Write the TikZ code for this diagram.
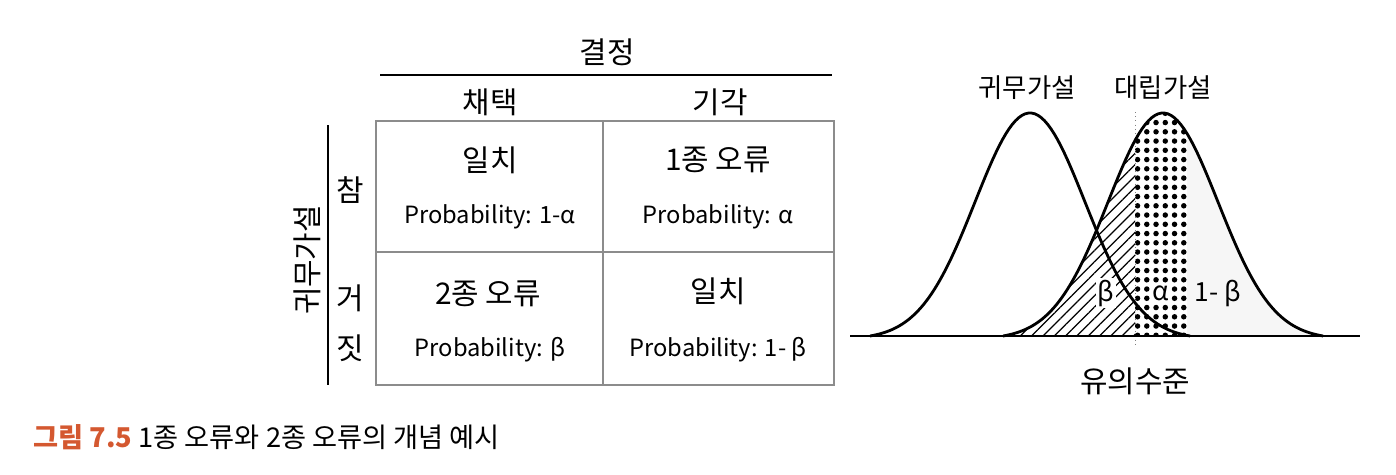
\documentclass[tikz,border=0pt]{standalone}
\usepackage{fontspec}
\setmainfont{Noto Sans CJK KR}
\usepackage{tikz}
\usetikzlibrary{patterns.meta}

\definecolor{capred}{RGB}{212,88,48}
\definecolor{gridgray}{gray}{0.55}
\tikzset{
  head/.style={font=\fontsize{17}{20}\selectfont, inner sep=0pt},
  prob/.style={font=\fontsize{13.5}{16}\selectfont, inner sep=0pt},
  curvelab/.style={font=\fontsize{15}{18}\selectfont, inner sep=0pt},
  curve/.style={line width=1.6pt, line join=round},
}

\begin{document}
\begin{tikzpicture}[x=0.02cm,y=-0.02cm,
    declare function={gnull(\x)=336-223*(exp(-((\x-1030)/55)^2/2)-0.0145)/0.9855;
                      galt(\x)=336-223*(exp(-((\x-1163)/55)^2/2)-0.0145)/0.9855;}]
		\useasboundingbox (0,0) rectangle (1396,474);
		% decision table
		\node[head] (decide) at (607,52) {결정};
		\draw[line width=1pt] (380,75)--(832,75);
		\node[head] (accept) at (490,102) {채택};
		\node[head] (reject) at (720,102) {기각};
		\draw[gridgray, line width=0.9pt] (376,121) rectangle (834,385);
		\draw[gridgray, line width=0.9pt] (603,121)--(603,385);
		\draw[gridgray, line width=0.9pt] (376,252)--(834,252);
		\draw[line width=1pt] (328,125)--(328,385);
		\node[head, rotate=90] (nullhyp) at (307,260) {귀무가설};
		\node[head] (true) at (350,190) {참};
		\node[head] (false1) at (350,298) {거};
		\node[head] (false2) at (350,348) {짓};
		\node[head] (okA) at (490,160) {일치};
		\node[prob] (okAp) at (490,217) {Probability: 1-α};
		\node[head] (err1) at (718,160) {1종 오류};
		\node[prob] (err1p) at (718,217) {Probability: α};
		\node[head] (err2) at (488,294) {2종 오류};
		\node[prob] (err2p) at (490,350) {Probability: β};
		\node[head] (okB) at (718,291) {일치};
		\node[prob] (okBp) at (718,350) {Probability: 1- β};
		% distributions
		\fill[pattern={Lines[angle=45,distance=1.6mm,line width=0.7pt]}] (1003,336) -- plot[domain=1003:1135,samples=50] (\x,{galt(\x)}) -- (1135,336) -- cycle;
		\fill[pattern={Dots[radius=0.55mm,distance=1.85mm]}] (1135,336) -- plot[domain=1135:1187,samples=30] (\x,{galt(\x)}) -- (1187,336) -- cycle;
		\fill[gray!7] (1187,336) -- plot[domain=1187:1323,samples=50] (\x,{galt(\x)}) -- (1323,336) -- cycle;
		\draw[gray, dotted] (1135,112)--(1135,347);
		\draw[line width=0.8pt] (850,336)--(1360,336);
		\node[curvelab, fill=white, inner sep=1pt] (betalab) at (1106,293) {β};
		\node[curvelab, fill=white, inner sep=1pt] (alphalab) at (1161,293) {α};
		\node[curvelab] (powerlab) at (1218,293) {1- β};
		\draw[curve] plot[domain=870:1190,samples=100] (\x,{gnull(\x)});
		\draw[curve] plot[domain=1003:1323,samples=100] (\x,{galt(\x)});
		\node[curvelab] (nulllab) at (1027,88) {귀무가설};
		\node[curvelab] (altlab) at (1163,88) {대립가설};
		\node[head] (sig) at (1135,381) {유의수준};
		% caption
		\node[anchor=west, font=\fontsize{15.5}{18}\selectfont, inner sep=0pt] (caption) at (33,437) {\textcolor{capred}{\bfseries 그림 7.5} 1종 오류와 2종 오류의 개념 예시};
	\end{tikzpicture}
\end{document}
